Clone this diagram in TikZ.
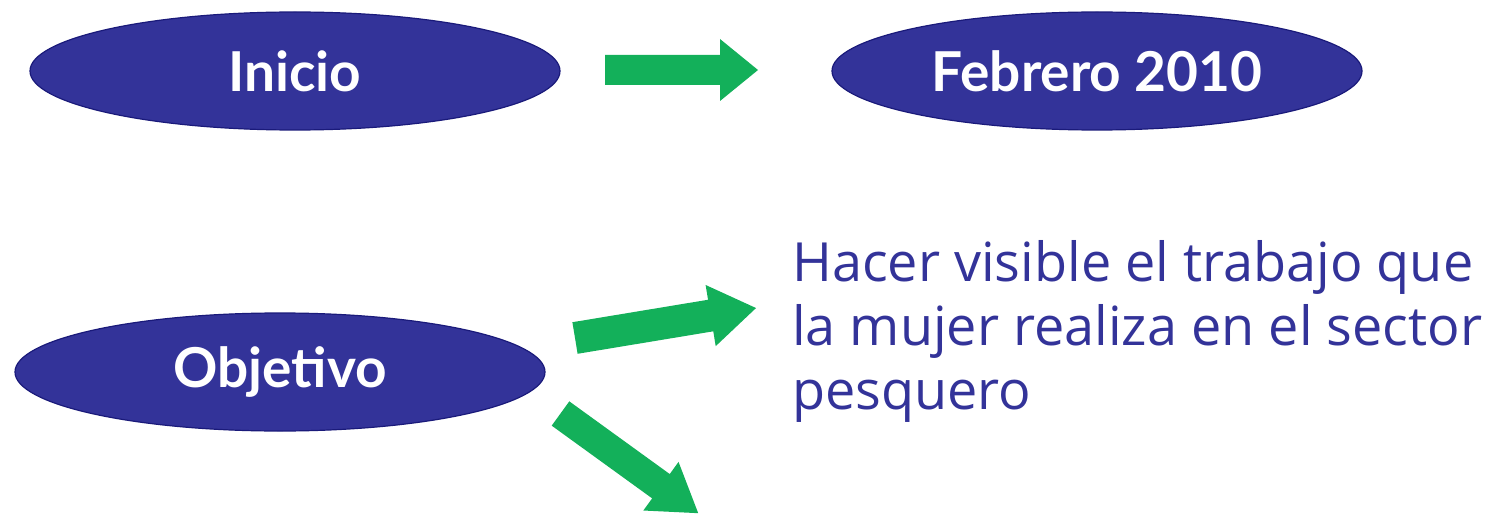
\documentclass[tikz,border=0pt]{standalone}
\usepackage{fontspec}
\setmainfont{Open Sans}
\newfontfamily\ovalfont{Lato}
\usetikzlibrary{shapes.geometric}
\definecolor{navyfill}{HTML}{333399}
\definecolor{navyline}{HTML}{1A1A7A}
\definecolor{arrowgreen}{HTML}{13B05A}
\definecolor{bodyblue}{HTML}{333399}
\tikzset{
  oval/.style={ellipse, draw=navyline, line width=1.2pt, fill=navyfill,
    text=white, inner sep=0pt, minimum width=530pt, minimum height=118pt,
    font=\ovalfont\bfseries\fontsize{55}{60}\selectfont},
  blockarrow/.style={fill=arrowgreen},
  bodyline/.style={anchor=base west, inner sep=0pt, text=bodyblue,
    font=\fontsize{54}{64}\selectfont}
}
% x, y, angle, length, shaft half width, head half width, head length
\newcommand\greenarrow[7]{%
  \fill[blockarrow, shift={(#1,#2)}, rotate=#3]
    (0,-#5) -- ({#4-#7},-#5) -- ({#4-#7},-#6) -- (#4,0)
    -- ({#4-#7},#6) -- ({#4-#7},#5) -- (0,#5) -- cycle;}
\begin{document}
\begin{tikzpicture}[x=1pt,y=1pt]
  \useasboundingbox (0,0) rectangle (1495,515);
  \node[oval] (inicio) at (295,444) {Inicio};
  \node[oval] (febrero) at (1097,444) {Febrero 2010};
  \node[oval] (objetivo) at (280,143) {\raisebox{-3pt}{Objetivo}};
  \begin{scope}
    \clip (0,0) rectangle (1495,515);
    \greenarrow{605}{445}{0}{153}{15}{31}{38}
    \greenarrow{575}{177}{9.4}{183.5}{16}{31}{46}
    \greenarrow{560.5}{101.5}{-35.9}{170}{15}{30}{46}
  \end{scope}
  \node[bodyline] (l1) at (792,234) {Hacer visible el trabajo que};
  \node[bodyline] (l2) at (792,170) {la mujer realiza en el sector};
  \node[bodyline] (l3) at (792,106) {pesquero};
\end{tikzpicture}
\end{document}
